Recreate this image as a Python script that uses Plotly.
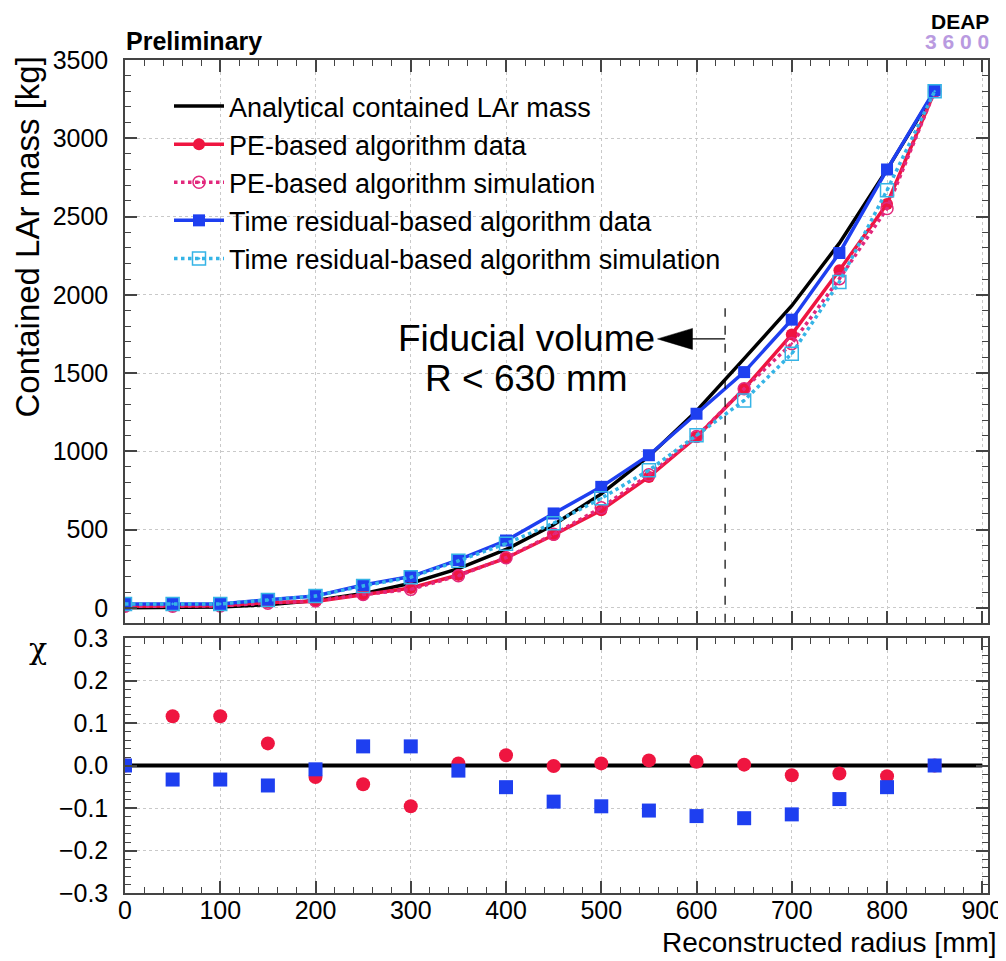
import plotly.graph_objects as go

# ---------------- data ----------------
radius = [0, 50, 100, 150, 200, 250, 300, 350, 400, 450, 500, 550, 600, 650, 700, 750, 800, 850]
analytic_mass = [0, 1, 6, 20, 47, 91, 157, 250, 373, 531, 728, 969, 1258, 1592, 1930, 2330, 2800, 3300]
pe_data = [10, 12, 14, 34, 40, 83, 127, 210, 318, 465, 624, 836, 1091, 1400, 1747, 2157, 2580, 3300]
pe_sim = [10, 10, 12, 30, 45, 85, 118, 205, 320, 470, 640, 850, 1095, 1400, 1688, 2103, 2551, 3300]
tr_data = [25, 25, 25, 51, 76, 146, 200, 306, 430, 603, 773, 975, 1240, 1506, 1841, 2267, 2800, 3307]
tr_sim = [25, 25, 25, 50, 75, 140, 195, 300, 410, 541, 700, 879, 1102, 1325, 1624, 2082, 2668, 3300]
chi_pe = [0.0, 0.116, 0.116, 0.052, -0.027, -0.044, -0.096, 0.005, 0.024, -0.001, 0.005, 0.012,
          0.009, 0.002, -0.023, -0.019, -0.025, 0.0]
chi_tr = [0.0, -0.033, -0.033, -0.047, -0.009, 0.045, 0.045, -0.012, -0.051, -0.085, -0.096, -0.106,
          -0.119, -0.124, -0.115, -0.079, -0.051, 0.0]

fiducial_r = 630
names = ["Analytical contained LAr mass", "PE-based algorithm data", "PE-based algorithm simulation",
         "Time residual-based algorithm data", "Time residual-based algorithm simulation"]

# ---------------- style ----------------
FONT = "Liberation Sans, Arial, Helvetica, sans-serif"
RED = "#ef1540"
PINK = "#e2287c"
BLUE = "#1e3ff0"
CYAN = "#35b4e6"
AXC = "#444444"
GRID = "#c9c9c9"

fig = go.Figure()

fig.add_trace(go.Scatter(x=radius, y=analytic_mass, mode="lines", name=names[0],
                         line=dict(color="black", width=3.5), xaxis="x", yaxis="y"))
fig.add_trace(go.Scatter(x=radius, y=pe_data, mode="lines+markers", name=names[1],
                         line=dict(color=RED, width=3.5),
                         marker=dict(symbol="circle", size=12, color=RED), xaxis="x", yaxis="y"))
fig.add_trace(go.Scatter(x=radius, y=pe_sim, mode="lines+markers", name=names[2],
                         line=dict(color=PINK, width=3.5, dash="dot"),
                         marker=dict(symbol="circle-dot", size=12, color="rgba(0,0,0,0)",
                                     line=dict(color=PINK, width=1.5)), xaxis="x", yaxis="y"))
fig.add_trace(go.Scatter(x=radius, y=tr_data, mode="lines+markers", name=names[3],
                         line=dict(color=BLUE, width=3.5),
                         marker=dict(symbol="square", size=12, color=BLUE), xaxis="x", yaxis="y"))
fig.add_trace(go.Scatter(x=radius, y=tr_sim, mode="lines+markers", name=names[4],
                         line=dict(color=CYAN, width=3.5, dash="dot"),
                         marker=dict(symbol="square-dot", size=13, color="rgba(0,0,0,0)",
                                     line=dict(color=CYAN, width=1.5)), xaxis="x", yaxis="y"))

# lower panel
fig.add_trace(go.Scatter(x=radius, y=chi_pe, mode="markers", showlegend=False,
                         marker=dict(symbol="circle", size=14, color=RED), xaxis="x2", yaxis="y2"))
fig.add_trace(go.Scatter(x=radius, y=chi_tr, mode="markers", showlegend=False,
                         marker=dict(symbol="square", size=14, color=BLUE), xaxis="x2", yaxis="y2"))

# ---------------- layout ----------------
# the page body adds an 8 px offset; figure is sized so the plot frame lands at
# screen x 125..988, y 60..893
L, R, T, B = 117, 18, 52, 68
W, H = 998, 953
PW = W - L - R          # 863
PH = H - T - B          # 833


def px(X):
    return (X - 125) / PW


def py(Y):
    return (893 - Y) / PH


top_domain = [py(622.7), 1.0]
bot_domain = [0.0, py(638)]

tickfont = dict(family=FONT, size=25, color="black")

common_x = dict(range=[0, 906], tick0=0, dtick=100, ticks="inside", ticklen=12, tickwidth=1.5,
                tickcolor=AXC, showline=True, linecolor=AXC, linewidth=1.5, mirror="allticks",
                showgrid=True, gridcolor=GRID, griddash="dot", gridwidth=1, zeroline=False,
                automargin=False,
                minor=dict(dtick=20, ticks="inside", ticklen=6, tickcolor=AXC, tickwidth=1.2, showgrid=False),
                tickfont=tickfont)

fig.update_layout(
    width=W, height=H,
    margin=dict(l=L, r=R, t=T, b=B, autoexpand=False),
    paper_bgcolor="white", plot_bgcolor="white",
    font=dict(family=FONT, color="black"),
    xaxis=dict(common_x, domain=[0, 1], anchor="y", showticklabels=False, matches="x2"),
    yaxis=dict(domain=top_domain, anchor="x", range=[-95, 3500], tick0=0, dtick=500,
               ticks="inside", ticklen=12, tickwidth=1.5, tickcolor=AXC, showline=True, linecolor=AXC,
               linewidth=1.5, mirror="allticks", showgrid=True, gridcolor=GRID, griddash="dot",
               zeroline=False, tickfont=tickfont, ticklabelstandoff=10, automargin=False,
               minor=dict(dtick=100, ticks="inside", ticklen=6, tickcolor=AXC, tickwidth=1.2, showgrid=False)),
    xaxis2=dict(common_x, domain=[0, 1], anchor="y2", ticklabelstandoff=-6),
    yaxis2=dict(domain=bot_domain, anchor="x2", range=[-0.3, 0.3], tick0=0, dtick=0.1,
                tickformat=".1f", ticks="inside", ticklen=12, tickwidth=1.5, tickcolor=AXC,
                showline=True, linecolor=AXC, linewidth=1.5, mirror="allticks", showgrid=True,
                gridcolor=GRID, griddash="dot", zeroline=False, tickfont=tickfont, ticklabelstandoff=10,
                automargin=False,
                minor=dict(dtick=0.02, ticks="inside", ticklen=6, tickcolor=AXC, tickwidth=1.2, showgrid=False)),
    legend=dict(x=px(169), y=py(82), xanchor="left", yanchor="top",
                bgcolor="rgba(0,0,0,0)", borderwidth=0, itemwidth=50,
                font=dict(family=FONT, size=27, color="black"), tracegroupgap=0),
    showlegend=True,
)

# reference line at chi = 0 (between grid and markers)
fig.add_shape(type="line", xref="x2", yref="y2", x0=0, x1=900, y0=0, y1=0,
              line=dict(color="black", width=4), layer="between")

# fiducial volume marker: dashed vertical line + arrow
arrow_y = 1718
fig.add_shape(type="line", xref="x", yref="y", x0=fiducial_r, x1=fiducial_r, y0=-95, y1=1914,
              line=dict(color="black", width=1.2, dash="dash"))
fig.add_shape(type="line", xref="x", yref="y", x0=fiducial_r, x1=575, y0=arrow_y, y1=arrow_y,
              line=dict(color="black", width=1.2))
fig.add_shape(type="path", xref="x", yref="y", xsizemode="pixel", ysizemode="pixel",
              xanchor=559, yanchor=arrow_y, path="M0,0 L35,10.5 L35,-10.5 Z",
              fillcolor="black", line=dict(color="black", width=0.5))

fig.add_annotation(x=422, y=1718, xref="x", yref="y", text="Fiducial volume", showarrow=False,
                   xanchor="center", yanchor="middle", font=dict(family=FONT, size=37, color="black"))
fig.add_annotation(x=422, y=1463, xref="x", yref="y", text="R &lt; 630 mm", showarrow=False,
                   xanchor="center", yanchor="middle", font=dict(family=FONT, size=37, color="black"))

# axis titles
fig.add_annotation(x=px(27), y=py(55), xref="paper", yref="paper",
                   text="Contained LAr mass [kg]", textangle=-90, showarrow=False,
                   xanchor="center", yanchor="top", font=dict(family=FONT, size=33, color="black"))
fig.add_annotation(x=px(38), y=py(648), xref="paper", yref="paper",
                   text="χ", showarrow=False, xanchor="center", yanchor="middle",
                   font=dict(family="DejaVu Serif, Liberation Serif, serif", size=30, color="black"))
fig.add_annotation(x=px(999), y=py(942), xref="paper", yref="paper",
                   text="Reconstructed radius [mm]", showarrow=False, xanchor="right", yanchor="middle",
                   font=dict(family=FONT, size=28, color="black"))

# headers
fig.add_annotation(x=px(124), y=py(41), xref="paper", yref="paper",
                   text="<b>Preliminary</b>", showarrow=False, xanchor="left", yanchor="middle",
                   font=dict(family=FONT, size=25, color="black"))
fig.add_annotation(x=px(990), y=py(21), xref="paper", yref="paper",
                   text="<b>DEAP</b>", showarrow=False, xanchor="right", yanchor="middle",
                   font=dict(family=FONT, size=21, color="black"), borderpad=0)
fig.add_annotation(x=px(990), y=py(42), xref="paper", yref="paper",
                   text="<b>3 6 0 0</b>", showarrow=False, xanchor="right", yanchor="middle",
                   font=dict(family=FONT, size=21, color="#b99ae0"), borderpad=0)

fig.write_html("out.html")
